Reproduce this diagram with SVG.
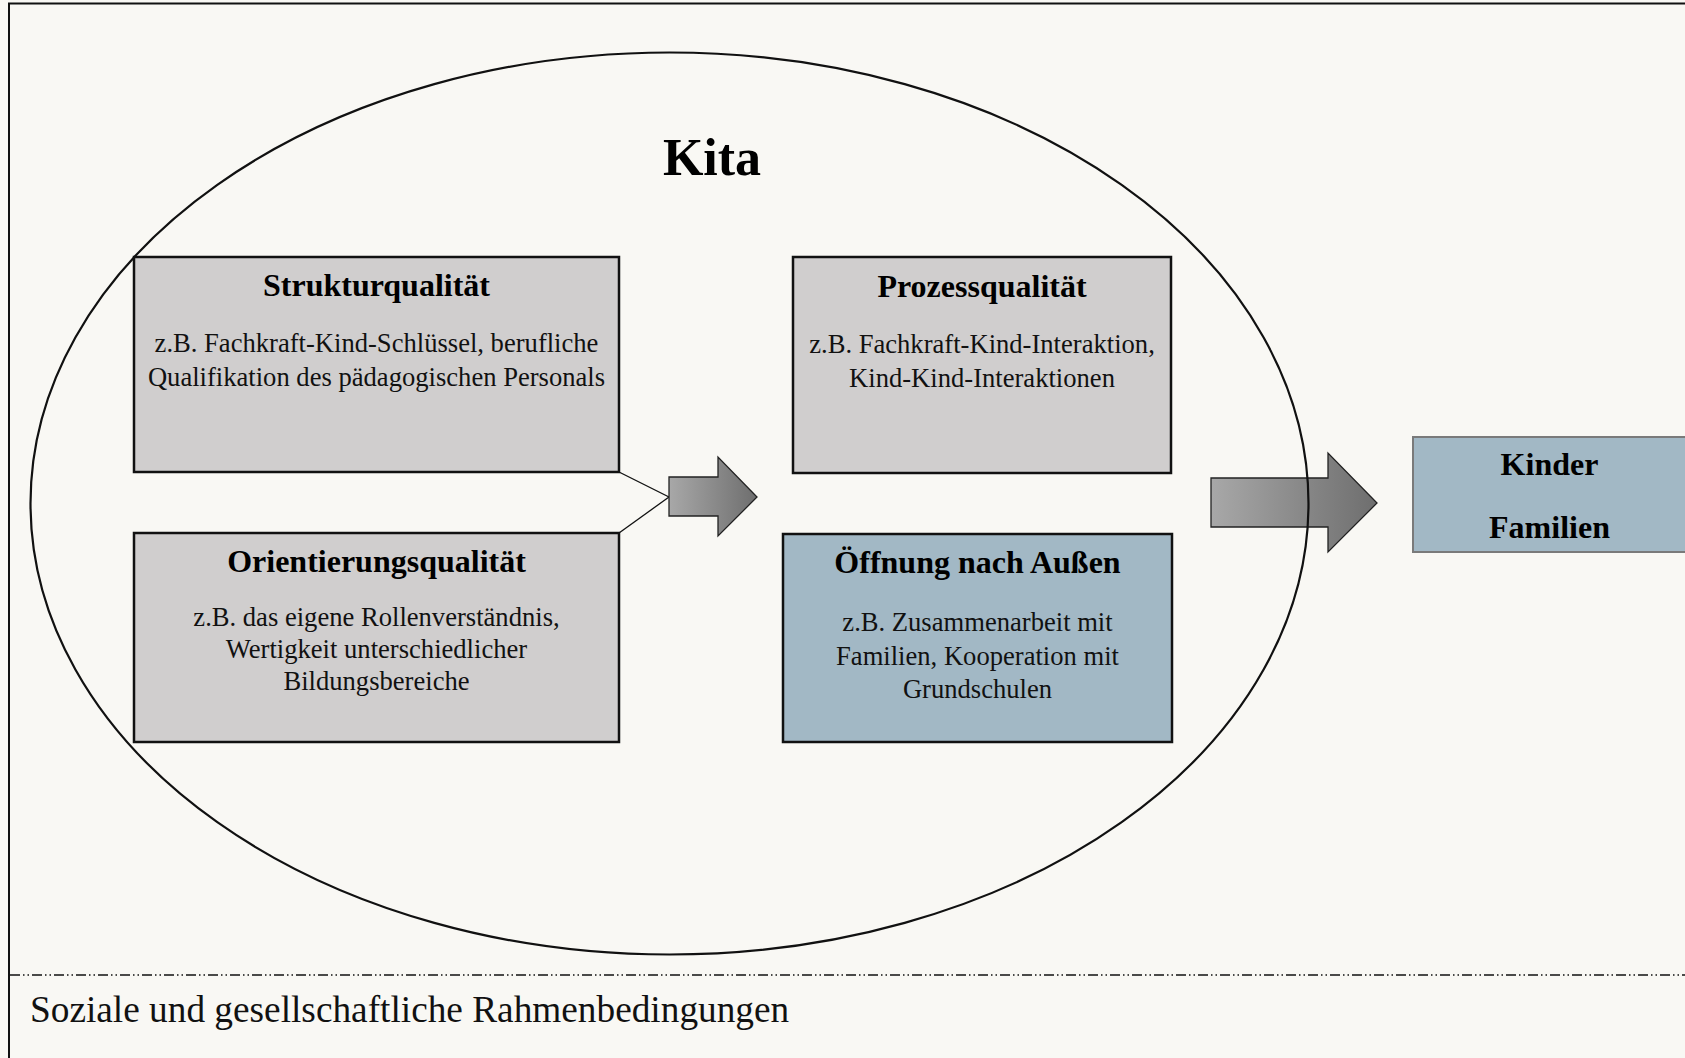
<svg xmlns="http://www.w3.org/2000/svg" width="1685" height="1058" viewBox="0 0 1685 1058">
<style>
  .box { stroke: #111; stroke-width: 2.5; }
  .gray { fill: #d0cece; }
  .blue { fill: #a2b8c5; }
  .title { font-family: "Liberation Serif", "Times New Roman", serif; font-weight: bold; font-size: 32px; fill: #000; text-anchor: middle; }
  .body { font-family: "Liberation Serif", "Times New Roman", serif; font-size: 26.6px; fill: #111; text-anchor: middle; }
  .blockarrow { fill: url(#arrowGrad); stroke: #222; stroke-width: 1.3; stroke-linejoin: miter; }
  .conn { stroke: #111; stroke-width: 1.3; fill: none; }
</style>
<defs>
  <linearGradient id="arrowGrad" x1="0" y1="0" x2="1" y2="0">
    <stop offset="0" stop-color="#a8a8a8"/>
    <stop offset="1" stop-color="#6e6e6e"/>
  </linearGradient>
</defs>
<rect x="0" y="0" width="1685" height="1058" fill="#f9f8f4"/>
<rect x="9" y="3.5" width="1700" height="1070" fill="none" stroke="#111" stroke-width="2"/>
<line x1="10" y1="975" x2="1685" y2="975" stroke="#111" stroke-width="1.6" stroke-dasharray="10 3 1.5 3 1.5 3"/>
<text x="30" y="1022" font-family="Liberation Serif, Times New Roman, serif" font-size="37.3" fill="#111">Soziale und gesellschaftliche Rahmenbedingungen</text>

<g id="connectors">
  <line class="conn" x1="619" y1="472" x2="669" y2="497"/>
  <line class="conn" x1="619" y1="533" x2="669" y2="497"/>
  <polygon class="blockarrow" points="669,477 718,477 718,457 757,497 718,536 718,516 669,516"/>
  <polygon class="blockarrow" points="1211,478 1328,478 1328,453 1377,503 1328,552 1328,527 1211,527"/>
</g>

<g id="kita">
  <ellipse cx="669.5" cy="503.5" rx="639" ry="451" fill="none" stroke="#111" stroke-width="2.2"/>
  <text x="712" y="175" font-family="Liberation Serif, Times New Roman, serif" font-weight="bold" font-size="52" text-anchor="middle" fill="#000">Kita</text>
</g>

<g id="strukturqualitaet">
  <rect class="box gray" x="134" y="257" width="485" height="215"/>
  <text class="title" x="376.5" y="296">Strukturqualität</text>
  <text class="body" x="376.5" y="352">z.B. Fachkraft-Kind-Schlüssel, berufliche</text>
  <text class="body" x="376.5" y="386">Qualifikation des pädagogischen Personals</text>
</g>

<g id="orientierungsqualitaet">
  <rect class="box gray" x="134" y="533" width="485" height="209"/>
  <text class="title" x="376.5" y="572">Orientierungsqualität</text>
  <text class="body" x="376.5" y="626">z.B. das eigene Rollenverständnis,</text>
  <text class="body" x="376.5" y="658">Wertigkeit unterschiedlicher</text>
  <text class="body" x="376.5" y="690">Bildungsbereiche</text>
</g>

<g id="prozessqualitaet">
  <rect class="box gray" x="793" y="257" width="378" height="216"/>
  <text class="title" x="982" y="297">Prozessqualität</text>
  <text class="body" x="982" y="353">z.B. Fachkraft-Kind-Interaktion,</text>
  <text class="body" x="982" y="387">Kind-Kind-Interaktionen</text>
</g>

<g id="oeffnung">
  <rect class="box blue" x="783" y="534" width="389" height="208"/>
  <text class="title" x="977.5" y="573">Öffnung nach Außen</text>
  <text class="body" x="977.5" y="631">z.B. Zusammenarbeit mit</text>
  <text class="body" x="977.5" y="665">Familien, Kooperation mit</text>
  <text class="body" x="977.5" y="698">Grundschulen</text>
</g>

<g id="kinder-familien">
  <rect class="blue" x="1413" y="437" width="274" height="115" stroke="#7a7a7a" stroke-width="2"/>
  <text class="title" x="1549.5" y="475">Kinder</text>
  <text class="title" x="1549.5" y="538">Familien</text>
</g>
</svg>
